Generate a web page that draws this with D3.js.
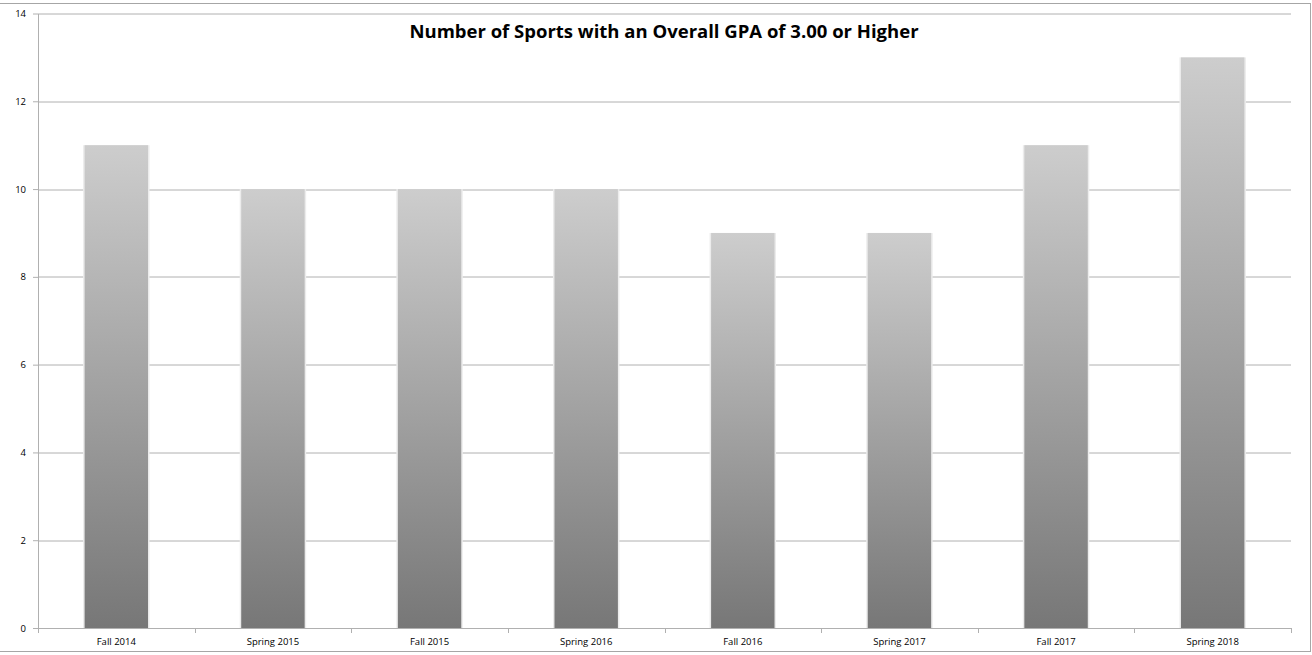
<!DOCTYPE html>
<meta charset="utf-8">
<head>
	<title>Number of Sports with an Overall GPA of 3.00 or Higher</title>
</head>

<style>

body{
	margin: 0;
	background-color: #fff;
}

svg{
	display: block;
	font-family: "Open Sans", "Noto Sans", sans-serif;
}

.axis path,
.axis line{
	stroke: #b0b0b0;
}

.axis text{
	fill: #000;
	font-size: 9.5px;
	font-family: "Open Sans", "Noto Sans", sans-serif;
}

.grid line{
	stroke: #b0b0b0;
}

</style>

<body>

<svg class="chart" width="1312" height="655"></svg>

<script src="https://cdnjs.cloudflare.com/ajax/libs/d3/7.8.5/d3.min.js"></script>
<script>

// data
var terms = ['Fall 2014', 'Spring 2015', 'Fall 2015', 'Spring 2016', 'Fall 2016', 'Spring 2017', 'Fall 2017', 'Spring 2018'];
var sports = [11, 10, 10, 10, 9, 9, 11, 13];
var y_ticks = [0, 2, 4, 6, 8, 10, 12, 14];
var chart_title = 'Number of Sports with an Overall GPA of 3.00 or Higher';

var margin = {top: 13.5, right: 21, bottom: 27, left: 38};
var width = 1312 - margin.left - margin.right;
var height = 655 - margin.top - margin.bottom;

var svg = d3.select('.chart');

// outer frame
svg.append('rect')
	.attr('x', -2)
	.attr('y', 3.5)
	.attr('width', 1312.5)
	.attr('height', 648)
	.attr('fill', 'none')
	.attr('stroke', '#a6a6a6')
	.attr('stroke-width', 1);

var defs = svg.append('defs');
var grad = defs.append('linearGradient')
	.attr('id', 'bar_grad')
	.attr('x1', 0).attr('y1', 0)
	.attr('x2', 0).attr('y2', 1);
grad.append('stop').attr('offset', '0%').attr('stop-color', '#cdcdcd');
grad.append('stop').attr('offset', '100%').attr('stop-color', '#777777');

var g = svg.append('g')
	.attr('transform', 'translate(' + margin.left + ',' + margin.top + ')');

var x = d3.scaleBand()
	.domain(terms)
	.range([0, width])
	.paddingInner(0.595)
	.paddingOuter(0.2975);

var y = d3.scaleLinear()
	.domain([0, 14])
	.range([height, 0]);

// gridlines
g.append('g')
	.attr('class', 'grid')
	.selectAll('line')
	.data(y_ticks.filter(function(d){ return d > 0; }))
	.enter()
	.append('line')
	.attr('x1', 0)
	.attr('x2', width)
	.attr('y1', function(d){ return Math.round(y(d)) + 0.5; })
	.attr('y2', function(d){ return Math.round(y(d)) + 0.5; });

// bar side shadows
g.selectAll('.shadow')
	.data(sports)
	.enter()
	.append('rect')
	.attr('class', 'shadow')
	.attr('x', function(d, i){ return x(terms[i]) - 1.5; })
	.attr('y', function(d){ return y(d); })
	.attr('width', x.bandwidth() + 3)
	.attr('height', function(d){ return height - y(d); })
	.attr('fill', '#ececec');

g.selectAll('.bar')
	.data(sports)
	.enter()
	.append('rect')
	.attr('class', 'bar')
	.attr('x', function(d, i){ return x(terms[i]); })
	.attr('y', function(d){ return y(d); })
	.attr('width', x.bandwidth())
	.attr('height', function(d){ return height - y(d); })
	.attr('fill', 'url(#bar_grad)');

// y axis
var yAxis = g.append('g')
	.attr('class', 'axis')
	.call(d3.axisLeft(y).tickValues(y_ticks).tickSize(5).tickPadding(7).tickSizeOuter(0));
yAxis.attr('font-family', null);

// x axis, ticks at category boundaries
var xAxis = g.append('g')
	.attr('class', 'axis')
	.attr('transform', 'translate(0,' + height + ')')
	.call(d3.axisBottom(x).tickSize(0).tickPadding(10).tickSizeOuter(0));
xAxis.attr('font-family', null);

xAxis.selectAll('.edge')
	.data(d3.range(terms.length + 1))
	.enter()
	.append('line')
	.attr('class', 'edge')
	.attr('x1', function(d){ return Math.round(d * x.step()) + 0.5; })
	.attr('x2', function(d){ return Math.round(d * x.step()) + 0.5; })
	.attr('y1', 0)
	.attr('y2', 5);

svg.append('text')
	.attr('x', 664)
	.attr('y', 38)
	.attr('text-anchor', 'middle')
	.style('font-size', '18.5px')
	.style('font-weight', 'bold')
	.text(chart_title);

</script>

</body>
</html>
